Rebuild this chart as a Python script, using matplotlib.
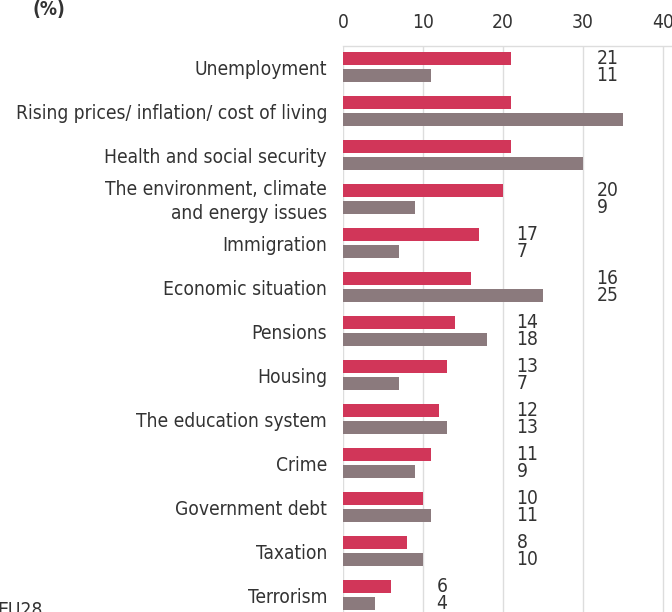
import numpy as np
import matplotlib
matplotlib.use("Agg")
import matplotlib.pyplot as plt
from matplotlib import font_manager

categories = [
    "Unemployment",
    "Rising prices/ inflation/ cost of living",
    "Health and social security",
    "The environment, climate\nand energy issues",
    "Immigration",
    "Economic situation",
    "Pensions",
    "Housing",
    "The education system",
    "Crime",
    "Government debt",
    "Taxation",
    "Terrorism",
]
series_a = [21, 21, 21, 20, 17, 16, 14, 13, 12, 11, 10, 8, 6]
series_b = [11, 35, 30, 9, 7, 25, 18, 7, 13, 9, 11, 10, 4]
xticks = [0, 10, 20, 30, 40]

RED = "#D13659"
GREY = "#8B7A7D"
TXT = "#333333"

cond = [f for f in font_manager.fontManager.ttflist
        if f.name == "DejaVu Sans" and "ondensed" in f.fname and f.weight in (400, "normal")]
if cond:
    plt.rcParams["font.family"] = ["DejaVu Sans"]
    plt.rcParams["font.stretch"] = "condensed"
    FS = 13.8
else:
    plt.rcParams["font.family"] = ["Lato", "DejaVu Sans"]
    FS = 14

W, H = 672, 612
fig = plt.figure(figsize=(W / 100, H / 100), dpi=100)
left = 343 / W
top = 1 - 46 / H
ax = fig.add_axes([left, 0, 1 - left, top])

n = len(categories)
y = np.arange(n)
h = 13.5 / 44
off = 8.6 / 44
ax.barh(y - off, series_a, height=h, color=RED, zorder=3)
ax.barh(y + off, series_b, height=h, color=GREY, zorder=3)

xmax = (W - 343) / 8
ax.set_xlim(0, xmax)
ax.set_ylim((H - 67) / 44, -21 / 44)

ax.set_xticks(xticks)
ax.xaxis.tick_top()
ax.tick_params(axis="x", length=0, pad=10, labelsize=FS, labelcolor=TXT)
ax.set_yticks([])
for s in ["left", "right", "bottom"]:
    ax.spines[s].set_visible(False)
ax.spines["top"].set_color("#dddddd")
ax.spines["top"].set_linewidth(1)
ax.grid(axis="x", color="#dddddd", linewidth=1, zorder=0)
ax.set_axisbelow(True)

for i, (a, b) in enumerate(zip(series_a, series_b)):
    ax.text(-2.0, i + 0.06, categories[i], ha="right", va="center",
            fontsize=FS, color=TXT, linespacing=1.3, clip_on=False)
    xl = np.floor(max(a, b) / 10) * 10 + 11.7
    if xl + 2 < xmax:
        ax.text(xl, i - off, str(a), ha="left", va="center", fontsize=FS,
                color=TXT, clip_on=False)
        ax.text(xl, i + off, str(b), ha="left", va="center", fontsize=FS,
                color=TXT, clip_on=False)

fig.text(33 / W, 1 - 9 / H, "(%)", ha="left", va="center", fontsize=FS,
         fontweight="bold", color=TXT)
fig.text(-3 / W, 1 - 610 / H, "EU28", ha="left", va="center", fontsize=FS,
         color=TXT)

fig.savefig("out.png", dpi=100)
